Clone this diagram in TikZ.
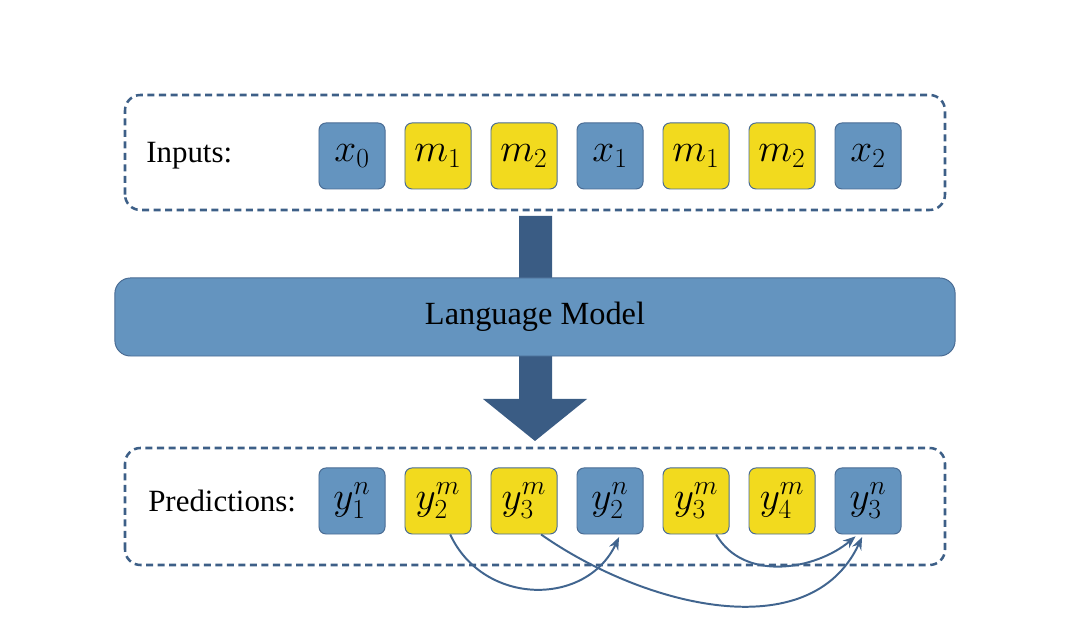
\RequirePackage{fix-cm}
\documentclass[tikz,border=0pt]{standalone}
\usepackage{fontspec}
\setmainfont{Liberation Serif}
\usetikzlibrary{arrows.meta}
\definecolor{tokblue}{HTML}{6494BF}
\definecolor{tokyellow}{HTML}{F2DA1E}
\definecolor{tokline}{HTML}{4A6C94}
\definecolor{dashblue}{HTML}{3D5F87}
\definecolor{arrowblue}{HTML}{3A5C84}
\definecolor{linkblue}{HTML}{41658F}
\begin{document}
\begin{tikzpicture}[x=0.025cm,y=0.025cm,
    tok/.style={draw=tokline,line width=0.7pt,rounded corners=5pt,minimum width=1.65cm,minimum height=1.65cm,inner sep=0pt,font=\fontsize{28}{34}\selectfont},
    tokn/.style={tok,fill=tokblue},
    tokm/.style={tok,fill=tokyellow},
    dashbox/.style={draw=dashblue,line width=1.8pt,dash pattern=on 5pt off 3.2pt,rounded corners=11pt},
    lbl/.style={anchor=west,inner sep=0pt,font=\fontsize{22}{26}\selectfont},
    lmbox/.style={draw=tokline,line width=0.7pt,fill=tokblue,rounded corners=11pt,minimum width=21cm,minimum height=1.95cm,font=\fontsize{23}{28}\selectfont},
    link/.style={draw=linkblue,line width=1.4pt,-{Stealth[length=9pt,width=7pt]},shorten >=2pt}]
        \useasboundingbox (0,0) rectangle (1070,636);
        \def\dx{86}
        \def\ytop{480}
        \def\ybot{135}
        % inputs
        \draw[dashbox] (125,426) rectangle (945,541);
        \node[lbl] (inlbl) at (146,\ytop) {Inputs:};
        \node[tokn] (in0) at (352,\ytop) {$x_0$};
        \node[tokm] (in1) at (352+\dx,\ytop) {$m_1$};
        \node[tokm] (in2) at (352+2*\dx,\ytop) {$m_2$};
        \node[tokn] (in3) at (352+3*\dx,\ytop) {$x_1$};
        \node[tokm] (in4) at (352+4*\dx,\ytop) {$m_1$};
        \node[tokm] (in5) at (352+5*\dx,\ytop) {$m_2$};
        \node[tokn] (in6) at (352+6*\dx,\ytop) {$x_2$};
        % model
        \fill[arrowblue] (519,420) -- (552,420) -- (552,237) -- (587,237) -- (535,195) -- (483,237) -- (519,237) -- cycle;
        \node[lmbox] (lm) at (535,319) {Language Model};
        % predictions
        \draw[dashbox] (125,71) rectangle (945,188);
        \node[lbl] (prlbl) at (148,\ybot) {Predictions:};
        \node[tokn] (pr0) at (352,\ybot) {$y_1^n$};
        \node[tokm] (pr1) at (352+\dx,\ybot) {$y_2^m$};
        \node[tokm] (pr2) at (352+2*\dx,\ybot) {$y_3^m$};
        \node[tokn] (pr3) at (352+3*\dx,\ybot) {$y_2^n$};
        \node[tokm] (pr4) at (352+4*\dx,\ybot) {$y_3^m$};
        \node[tokm] (pr5) at (352+5*\dx,\ybot) {$y_4^m$};
        \node[tokn] (pr6) at (352+6*\dx,\ybot) {$y_3^n$};
        \draw[link] (pr1.-70) to[out=-65,in=-115,looseness=1.2] (pr3.-73);
        \draw[link] (pr2.-63) to[out=-35,in=-115] (pr6.-98);
        \draw[link] (pr4.-59) to[out=-60,in=-140] (pr6.-107);
\end{tikzpicture}
\end{document}
